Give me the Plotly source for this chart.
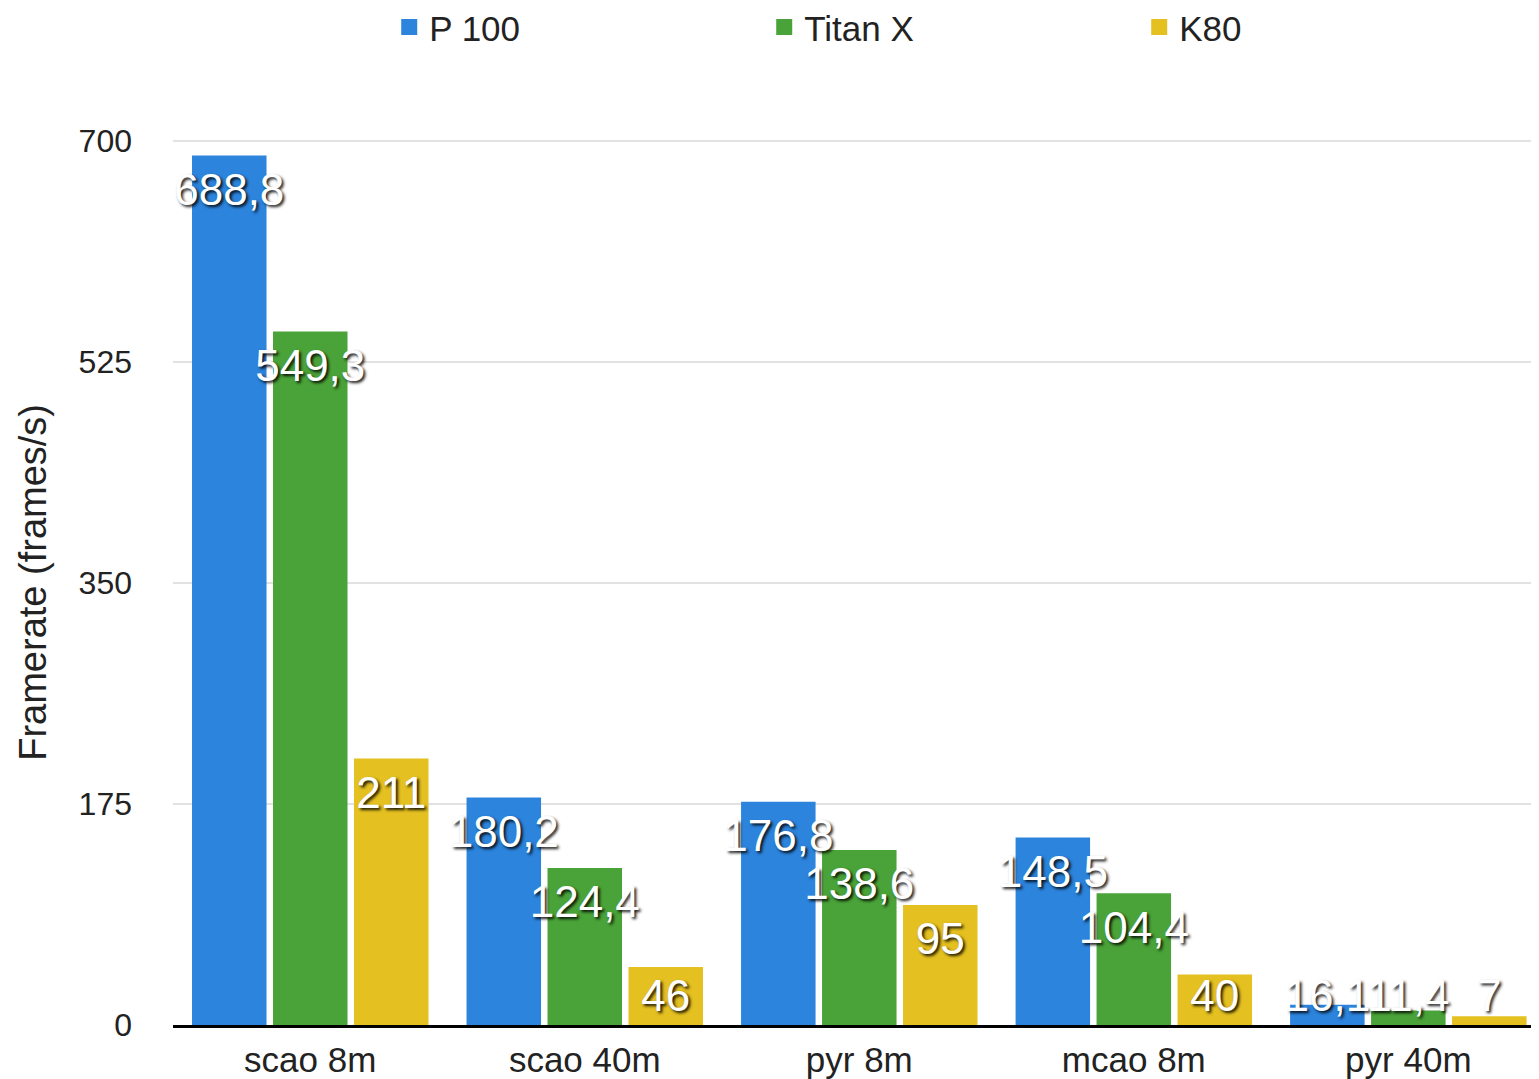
import plotly.graph_objects as go

categories = ["scao 8m", "scao 40m", "pyr 8m", "mcao 8m", "pyr 40m"]
p100 = [688.8, 180.2, 176.8, 148.5, 16.1]
titanx = [549.3, 124.4, 138.6, 104.4, 11.4]
k80 = [211, 46, 95, 40, 7]
y_ticks = [0, 175, 350, 525, 700]

series = [
    ("P 100", p100, "#2c84dd"),
    ("Titan X", titanx, "#4aa338"),
    ("K80", k80, "#e4c020"),
]

def fmt(v):
    return ("%g" % v).replace(".", ",")

BARGAP = 0.115

fig = go.Figure()
for name, vals, col in series:
    fig.add_trace(go.Bar(
        name=name, x=categories, y=vals, showlegend=False,
        marker=dict(color=col, line=dict(width=0)), hoverinfo="skip",
    ))
# value labels: white text with shadow, just below each bar top (kept above the baseline)
for name, vals, col in series:
    fig.add_trace(go.Scatter(
        x=categories, y=[max(v - 13, 37) for v in vals], mode="text",
        text=[fmt(v) for v in vals], textposition="bottom center",
        showlegend=False, cliponaxis=False, hoverinfo="skip",
        textfont=dict(family="Liberation Sans", size=44, color="white",
                      shadow="2px 2px 3px rgba(0,0,0,0.9)"),
    ))
# legend entries with square swatches (on a hidden overlay axis so they don't affect grouping)
for name, vals, col in series:
    fig.add_trace(go.Scatter(
        name=name, x=[None], y=[None], mode="markers", xaxis="x2", yaxis="y2",
        marker=dict(symbol="square", size=28, color=col),
    ))

fig.update_layout(
    width=1531, height=1071,
    margin=dict(l=165, r=0, t=132, b=49),
    paper_bgcolor="white", plot_bgcolor="white",
    barmode="group", bargap=BARGAP, bargroupgap=0.08,
    scattermode="group", scattergap=BARGAP,
    font=dict(family="Liberation Sans", size=32, color="#222"),
    legend=dict(orientation="h", xref="container", yref="container",
                x=0.249, xanchor="left", y=0.982, yanchor="middle",
                entrywidth=330, entrywidthmode="pixels", itemsizing="trace",
                font=dict(size=35, color="#222"), itemwidth=30),
    xaxis=dict(range=[-0.5, 4.476], showline=True, linecolor="black", linewidth=3,
               tickfont=dict(size=35), ticks="", showgrid=False, ticklabelstandoff=2),
    yaxis=dict(range=[0, 701], tickvals=y_ticks, showgrid=True, gridcolor="#e2e2e2",
               gridwidth=2, zeroline=False, showline=False, ticks="",
               ticklabelstandoff=40, tickfont=dict(size=32)),
    xaxis2=dict(overlaying="x", visible=False),
    yaxis2=dict(overlaying="y", visible=False),
    annotations=[dict(text="Framerate (frames/s)", textangle=-90, xref="paper", yref="paper",
                      x=-0.103, y=0.5, xanchor="center", yanchor="middle", showarrow=False,
                      font=dict(size=38, color="#222"))],
)

fig.write_html("out.html")
